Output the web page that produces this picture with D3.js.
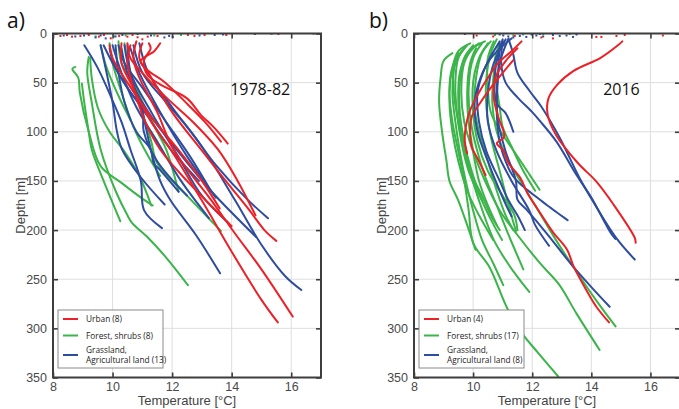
<!DOCTYPE html>
<html>
<head>
<meta charset="utf-8">
<script src="https://cdn.jsdelivr.net/npm/d3@7"></script>
<style>
  body { margin: 0; background: #fff; }
  svg { display: block; font-family: "Liberation Sans", Arial, sans-serif; }
  .grid line { stroke: #dedede; stroke-width: 1; }
  .frame { fill: none; stroke: #3d3d3d; stroke-width: 2; }
  .axis .tick line { stroke: #3d3d3d; stroke-width: 1.6; }
  .axis .tick text { fill: #4a4a4a; font-size: 12.5px; }
  .axis .domain { display: none; }
  .profile { fill: none; stroke-width: 2; stroke-linejoin: round; stroke-linecap: round; }
  .legend-box { fill: #fff; stroke: #8a8a8a; stroke-width: 1; }
  .legend text { font-family: "Open Sans", "Noto Sans", sans-serif; font-size: 8.3px; fill: #222; }
</style>
</head>
<body>
<div id="chart"></div>
<script>
// temperature-depth profiles, each point is [temperature °C, depth m]
var urbanA = [
  [[10.3,10],[10.3,30],[10.6,50],[11.3,90],[11.95,118],[13.0,170],[14.0,222],[15.0,271],[15.55,294]],
  [[10.8,8],[10.7,25],[10.9,45],[11.5,80],[12.05,118],[13.3,169],[14.1,203],[15.0,240],[16.05,288]],
  [[11.0,10],[10.9,25],[11.3,45],[12.0,80],[12.97,118],[13.8,150],[14.6,180],[15.1,200],[15.5,211]],
  [[10.5,10],[10.6,25],[11.0,40],[11.8,65],[12.7,90],[13.54,118],[14.2,150],[14.8,185]],
  [[10.6,12],[10.5,30],[10.7,55],[11.1,90],[11.6,118],[12.5,150],[13.3,175],[14.0,196]],
  [[11.22,10],[11.28,15],[11.05,28],[11.17,42],[11.61,52],[12.5,66],[12.97,83],[13.42,96],[13.87,112]],
  [[11.6,10],[11.4,18],[10.94,28],[11.2,38],[11.73,49],[12.52,72],[13.1,90],[13.64,110]],
  [[9.9,12],[10.0,25],[10.5,50],[11.3,85],[12.2,118],[13.0,150],[13.6,178]]
];
var forestA = [
  [[9.2,24],[9.15,40],[9.3,70],[9.6,118],[10.1,160],[10.5,185],[10.66,193],[11.2,208],[11.8,228],[12.53,256]],
  [[8.75,34],[8.65,36],[8.85,45],[8.9,60],[9.2,100],[9.6,135],[10.3,152],[11.0,168],[11.35,175]],
  [[8.97,51],[9.05,70],[9.2,100],[9.3,118],[9.7,150],[10.26,191]],
  [[9.25,25],[9.3,45],[9.5,75],[9.9,100],[10.4,120],[10.9,145],[11.3,175]],
  [[9.6,12],[9.75,30],[9.93,45],[10.3,70],[10.5,82],[10.6,88]],
  [[10.2,8],[10.3,30],[10.7,50],[11.04,72],[11.5,100],[11.8,118],[12.22,161]],
  [[10.4,10],[10.6,40],[11.0,80],[11.3,110],[11.5,132],[12.5,165],[13.64,201]],
  [[9.9,10],[10.0,30],[10.3,60],[10.7,95],[11.2,125],[11.6,145]]
];
var grassA = [
  [[9.05,12],[9.5,35],[9.94,64],[10.3,90],[10.6,118],[10.95,150],[11.06,180],[11.66,198]],
  [[9.6,12],[9.8,40],[10.0,70],[10.15,100],[10.32,118],[10.94,146],[11.75,174]],
  [[10.1,12],[10.2,40],[10.4,70],[10.8,100],[11.28,118],[11.38,132],[11.6,139],[12.22,161]],
  [[10.5,12],[10.6,40],[11.0,80],[11.3,120],[11.6,150],[11.95,170],[12.8,205],[13.61,244]],
  [[10.9,10],[11.2,40],[12.0,75],[13.0,115],[14.1,169],[15.0,215],[15.8,247],[16.34,261]],
  [[10.7,12],[11.0,40],[11.8,70],[12.5,95],[13.5,135],[14.5,168],[15.22,188]],
  [[10.3,15],[10.5,40],[11.2,80],[12.2,120],[13.3,160],[14.82,207]],
  [[10.4,12],[10.6,40],[11.3,80],[12.2,125],[13.0,165],[13.9,193]],
  [[10.0,12],[10.3,40],[10.8,75],[11.5,110],[12.3,150],[13.24,188]],
  [[10.6,15],[10.9,40],[11.6,80],[12.5,125],[13.47,167]],
  [[9.9,15],[10.1,35],[10.6,60],[11.0,75],[11.05,100],[11.5,130],[12.5,165]],
  [[10.2,12],[10.4,30],[11.0,55],[11.8,90],[12.6,125],[13.3,160]],
  [[9.7,12],[10.0,30],[10.5,55],[11.2,85],[12.0,120],[12.9,150]]
];
var surfUrbanA = [[8.25,2.5],[8.47,1.5],[8.64,3.2],[8.92,2.5],[9.2,1.5],[9.54,3.2],[9.71,1.5],[9.94,4.9],[10.22,2.5],[10.5,3.2],[10.67,1.5],[10.84,3.8],[11.0,5.9],[11.18,3.2],[11.51,2.5],[12.53,1.5],[12.75,2.5],[13.09,1.5],[13.82,1.5],[15.57,0.5]];
var surfForestA = [[10.05,3],[10.44,2],[12.3,1.5],[15.34,0.5],[11.4,2],[9.43,3]];
var surfGrassA = [[8.36,2],[8.75,3],[9.04,2],[9.43,4],[9.6,2],[9.77,5],[10.1,3],[10.33,1.5],[10.84,0.5],[11.29,2],[11.74,4],[11.9,2.5],[12.02,3.5],[12.92,2],[13.43,1.5],[13.71,1],[14.78,0.5],[16.75,0]];

var urbanB = [
  [[15.05,8],[14.9,12],[14.3,25],[13.4,38],[12.85,52],[12.55,66],[12.52,82],[12.8,103],[13.55,132],[14.15,150],[14.75,174],[15.47,208],[15.5,213]],
  [[11.5,15],[11.1,28],[10.75,45],[10.7,65],[10.85,85],[11.05,105],[10.8,112],[11.0,118],[11.2,132],[11.6,147],[11.83,162],[12.17,178],[12.7,202],[13.18,220],[13.4,237],[13.83,261],[14.17,278],[14.6,294]],
  [[11.64,8],[11.3,18],[10.85,30],[10.5,45],[10.2,60],[9.9,78],[9.75,95],[9.72,110],[9.8,122]],
  [[11.36,27],[11.0,40],[10.6,55],[10.23,71],[9.95,85],[9.9,100],[9.95,115],[10.2,130],[10.42,144]]
];
var forestB = [
  [[9.3,20],[9.0,28],[8.9,45],[8.85,70],[8.95,100],[9.1,130],[9.2,150],[9.5,170],[9.8,195],[10.08,220]],
  [[9.9,10],[9.5,18],[9.3,35],[9.2,60],[9.3,90],[9.5,120],[9.7,150],[9.85,180],[10.0,213],[10.56,238],[11.13,278],[11.58,302],[12.2,325],[12.88,349]],
  [[10.4,8],[10.0,15],[9.7,30],[9.6,60],[9.7,90],[10.0,120],[10.4,150],[10.9,180],[11.5,205],[12.3,235],[12.9,255],[13.5,285],[14.28,322]],
  [[11.0,8],[10.8,20],[10.7,40],[10.65,70],[10.8,100],[11.2,130],[11.7,155],[12.2,180],[12.8,210],[13.6,247],[14.2,273],[14.82,298]],
  [[10.2,10],[9.8,20],[9.55,40],[9.5,70],[9.6,100],[9.8,130],[10.2,170],[10.7,210],[11.2,235],[11.9,263]],
  [[9.7,15],[9.4,30],[9.3,60],[9.4,90],[9.55,120],[9.75,150],[10.0,180],[10.3,210],[10.7,235],[11.02,256]],
  [[10.6,8],[10.3,20],[10.1,45],[10.05,75],[10.2,100],[10.5,130],[10.8,160],[11.1,185],[11.36,200]],
  [[10.0,12],[9.7,25],[9.55,50],[9.55,80],[9.7,110],[9.95,140],[10.3,170],[10.7,195],[10.98,210]],
  [[10.8,6],[10.6,20],[10.45,45],[10.45,75],[10.6,105],[10.9,140],[11.2,175],[11.45,201]],
  [[10.7,8],[10.5,25],[10.5,55],[10.6,80],[10.9,98],[11.5,125],[12.25,159]],
  [[9.5,20],[9.25,40],[9.2,70],[9.3,100],[9.5,130],[9.8,160],[10.2,185],[10.68,210]],
  [[10.3,10],[10.0,25],[9.85,55],[9.9,85],[10.1,115],[10.4,145],[10.8,175],[11.2,205],[11.7,240]],
  [[9.6,18],[9.35,35],[9.35,60],[9.5,90],[9.7,115],[9.9,140],[10.3,165],[10.6,185],[10.9,200]],
  [[10.5,10],[10.2,25],[10.0,50],[10.0,80],[10.15,110],[10.5,140],[11.0,165],[11.4,185],[11.5,200]],
  [[10.9,10],[10.75,25],[10.8,55],[10.9,75],[11.0,95],[11.3,115],[11.7,140],[12.1,160]],
  [[9.8,12],[9.5,25],[9.4,50],[9.45,80],[9.6,110],[9.85,140],[10.3,170]],
  [[10.1,15],[9.9,30],[9.8,60],[9.85,90],[10.0,120],[10.2,150],[10.5,175],[10.8,195]]
];
var grassB = [
  [[11.2,6],[11.35,20],[11.5,40],[11.9,58],[12.3,74],[12.93,106],[13.6,147],[14.06,171],[14.84,208],[15.47,230]],
  [[11.0,8],[10.95,30],[11.1,50],[11.5,65],[12.0,80],[12.26,89],[12.82,110],[13.5,144],[14.0,167],[14.68,204],[14.82,209]],
  [[11.0,6],[10.75,37],[10.8,71],[11.1,81],[11.36,100]],
  [[10.9,10],[10.85,40],[10.8,80],[10.9,110],[11.1,130],[11.4,147],[12.3,170],[13.2,190]],
  [[11.2,5],[10.9,30],[10.8,60],[10.85,90],[11.1,120],[11.45,150],[11.5,169],[11.8,179],[12.48,203],[13.38,237],[14.0,258],[14.62,278]],
  [[11.1,6],[10.7,30],[10.5,60],[10.5,90],[10.8,120],[11.3,150],[11.9,180],[12.1,195],[12.57,216]],
  [[10.9,8],[10.4,35],[10.15,60],[10.2,90],[10.45,120],[10.9,150],[11.2,170],[11.5,185],[11.75,200]],
  [[11.3,5],[10.6,25],[10.25,45],[10.05,70],[10.15,100],[10.5,130],[10.9,160],[11.2,180],[11.3,186]]
];
var surfUrbanB = [[10.12,2],[10.68,3],[11.41,2.5],[12.31,4],[12.7,5],[14.17,3.5],[14.34,3.5],[14.85,2.5],[15.13,1.5],[16.42,2]];
var surfForestB = [[10.74,1.5],[11.36,2],[11.69,1],[12.37,0.5],[13.27,0.5]];
var surfGrassB = [[9.72,0.5],[10.9,1],[11.02,2],[11.19,3],[11.36,4],[11.58,2.5],[11.8,3.5],[11.98,1],[12.14,2],[12.26,0.5],[12.37,3],[12.7,1.5],[12.93,2.5],[13.16,2],[13.38,3.5],[13.5,1]];

var dottedForestB = [9];
var dottedGrassB = [3];

var categories = ['Urban', 'Forest, shrubs', 'Grassland,\nAgricultural land'];
var countsA = [8, 8, 13];
var countsB = [4, 17, 8];

var xTicks = [8, 10, 12, 14, 16];
var yTicks = [0, 50, 100, 150, 200, 250, 300, 350];
var colors = ['#ec2027', '#3bb54a', '#2f4d9f'];

var width = 679, height = 409;
var top0 = 33.5, bottom0 = 377.5;

var svg = d3.select('#chart').append('svg')
    .attr('width', width)
    .attr('height', height);

var drawPanel = function(cfg) {
    var x = d3.scaleLinear().domain([8, 17]).range([cfg.left, cfg.right]);
    var y = d3.scaleLinear().domain([0, 350]).range([top0, bottom0]);
    var g = svg.append('g');

    g.append('clipPath').attr('id', 'clip-' + cfg.id)
        .append('rect')
        .attr('x', cfg.left).attr('y', top0)
        .attr('width', cfg.right - cfg.left).attr('height', bottom0 - top0);

    // grid
    var grid = g.append('g').classed('grid', true);
    grid.selectAll('line.gx').data(xTicks.slice(1)).enter().append('line')
        .attr('x1', function(d) { return x(d); }).attr('x2', function(d) { return x(d); })
        .attr('y1', top0).attr('y2', bottom0);
    grid.selectAll('line.gy').data(yTicks.slice(1, -1)).enter().append('line')
        .attr('x1', cfg.left).attr('x2', cfg.right)
        .attr('y1', function(d) { return y(d); }).attr('y2', function(d) { return y(d); });

    var line = d3.line()
        .x(function(d) { return x(d[0]); })
        .y(function(d) { return y(d[1]); })
        .curve(d3.curveCatmullRom.alpha(0.5));

    var plot = g.append('g').attr('clip-path', 'url(#clip-' + cfg.id + ')');

    // forest, grass, urban drawing order
    [[cfg.forest, 1, cfg.dottedForest], [cfg.grass, 2, cfg.dottedGrass], [cfg.urban, 0, []]].forEach(function(set) {
        plot.selectAll(null)
            .data(set[0])
            .enter().append('path')
            .classed('profile', true)
            .attr('stroke', colors[set[1]])
            .attr('stroke-dasharray', function(d, i) { return set[2].indexOf(i) >= 0 ? '1.6 0.9' : null; })
            .attr('stroke-width', function(d, i) { return set[2].indexOf(i) >= 0 ? 1.8 : 2; })
            .attr('d', line);
    });

    // near-surface readings
    [[cfg.surfForest, 1], [cfg.surfGrass, 2], [cfg.surfUrban, 0]].forEach(function(set) {
        plot.selectAll(null)
            .data(set[0])
            .enter().append('rect')
            .attr('x', function(d) { return x(d[0]) - 1; })
            .attr('y', function(d) { return y(d[1]) - 1; })
            .attr('width', 2).attr('height', 2)
            .attr('fill', colors[set[1]]);
    });

    // axes with inward ticks
    g.append('g').classed('axis', true)
        .attr('transform', 'translate(0,' + bottom0 + ')')
        .call(d3.axisBottom(x).tickValues(xTicks).tickSizeInner(-5).tickSizeOuter(0).tickPadding(5));
    g.append('g').classed('axis', true)
        .attr('transform', 'translate(0,' + top0 + ')')
        .call(d3.axisTop(x).tickValues(xTicks).tickSizeInner(-5).tickSizeOuter(0).tickFormat(''));
    g.append('g').classed('axis', true)
        .attr('transform', 'translate(' + cfg.left + ',0)')
        .call(d3.axisLeft(y).tickValues(yTicks).tickSizeInner(-5).tickSizeOuter(0).tickPadding(6));
    g.append('g').classed('axis', true)
        .attr('transform', 'translate(' + cfg.right + ',0)')
        .call(d3.axisRight(y).tickValues(yTicks).tickSizeInner(-5).tickSizeOuter(0).tickFormat(''));

    g.append('rect').classed('frame', true)
        .attr('x', cfg.left).attr('y', top0)
        .attr('width', cfg.right - cfg.left).attr('height', bottom0 - top0);

    // titles
    g.append('text')
        .attr('x', (cfg.left + cfg.right) / 2).attr('y', 405)
        .attr('text-anchor', 'middle')
        .style('font-size', '13px').style('fill', '#444')
        .text('Temperature [°C]');
    g.append('text')
        .attr('transform', 'translate(' + (cfg.left - 28) + ',' + ((top0 + bottom0) / 2) + ') rotate(-90)')
        .attr('text-anchor', 'middle')
        .style('font-size', '13px').style('fill', '#444')
        .text('Depth [m]');
    g.append('text')
        .attr('x', cfg.letterX).attr('y', 28)
        .style('font-family', '"Open Sans", sans-serif')
        .style('font-size', '21px').style('fill', '#111')
        .text(cfg.letter);
    g.append('text')
        .attr('x', x(cfg.periodAt[0])).attr('y', y(cfg.periodAt[1]))
        .style('font-family', '"Open Sans", sans-serif')
        .style('font-size', '16px').style('fill', '#111')
        .text(cfg.period);

    // legend
    var lg = g.append('g').classed('legend', true)
        .attr('transform', 'translate(' + (cfg.left + 5) + ',310)');
    lg.append('rect').classed('legend-box', true)
        .attr('width', 105).attr('height', 58);
    var rowY = [9, 25.5, 45];
    categories.forEach(function(c, i) {
        lg.append('line')
            .attr('x1', 5).attr('x2', 20)
            .attr('y1', rowY[i]).attr('y2', rowY[i])
            .attr('stroke', colors[i]).attr('stroke-width', 2);
        var parts = c.split('\n');
        parts[parts.length - 1] += ' (' + cfg.counts[i] + ')';
        parts.forEach(function(p, j) {
            lg.append('text')
                .attr('x', 28)
                .attr('y', rowY[i] + 3 + (j - (parts.length - 1) / 2) * 10.5)
                .text(p);
        });
    });
};

drawPanel({
    id: 'a', letter: 'a)', letterX: 7, left: 53, right: 321,
    period: '1978-82', periodAt: [13.95, 63],
    urban: urbanA, forest: forestA, grass: grassA,
    surfUrban: surfUrbanA, surfForest: surfForestA, surfGrass: surfGrassA,
    dottedForest: [], dottedGrass: [],
    counts: countsA
});
drawPanel({
    id: 'b', letter: 'b)', letterX: 369, left: 414, right: 680,
    period: '2016', periodAt: [14.4, 63],
    urban: urbanB, forest: forestB, grass: grassB,
    surfUrban: surfUrbanB, surfForest: surfForestB, surfGrass: surfGrassB,
    dottedForest: dottedForestB, dottedGrass: dottedGrassB,
    counts: countsB
});
</script>
</body>
</html>
